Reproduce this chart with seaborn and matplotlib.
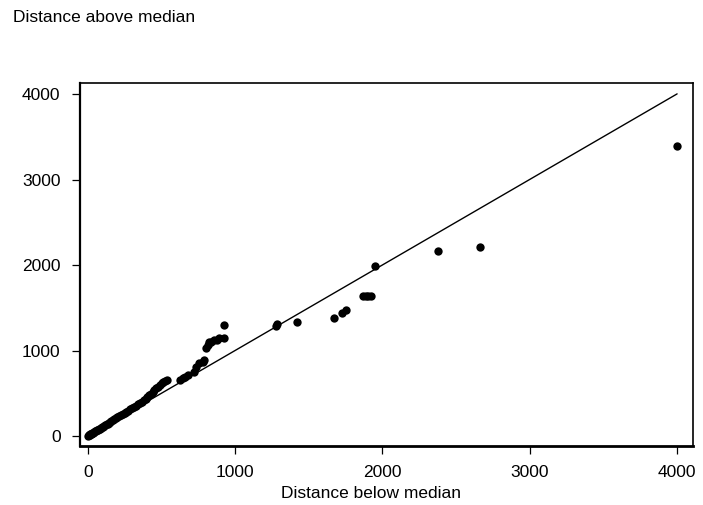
# Symmetry plot: distance above vs below the median
import seaborn as sns
import matplotlib.pyplot as plt
import pandas as pd

# values
below = [2, 5, 8, 12, 15, 20, 24, 28, 33, 38, 44, 50, 55, 61, 68, 74, 80, 87,
         95, 102, 110, 118, 127, 135, 142, 150, 160, 170, 180, 190, 200, 212,
         225, 238, 250, 262, 275, 288, 300, 312, 325, 340, 352, 366, 380, 392,
         405, 418, 430, 442, 452, 465, 478, 490, 502, 513, 525, 536,
         624, 647, 658, 680, 724, 736, 758, 780, 791, 802, 813, 824, 836, 858,
         880, 891, 924, 924,
         1275, 1288, 1424, 1673, 1729, 1751, 1869, 1888, 1906, 1924, 1951,
         2380, 2664, 4002]
above = [6, 9, 12, 15, 19, 23, 27, 31, 36, 41, 48, 54, 59, 66, 73, 80, 86, 94,
         103, 110, 118, 127, 137, 146, 153, 162, 173, 184, 195, 206, 217, 229,
         244, 258, 271, 284, 298, 313, 327, 340, 354, 370, 384, 400, 418, 436,
         455, 474, 495, 516, 536, 556, 578, 598, 618, 635, 646, 655,
         655, 675, 694, 713, 752, 811, 857, 869, 889, 1025, 1064, 1103, 1103,
         1123, 1123, 1143, 1143, 1298,
         1290, 1305, 1337, 1384, 1442, 1474, 1641, 1641, 1641, 1641, 1988,
         2166, 2207, 3395]

x_ticks = [0, 1000, 2000, 3000, 4000]
y_ticks = [0, 1000, 2000, 3000, 4000]

df = pd.DataFrame({"below": below, "above": above})

sns.set_style("ticks")
plt.rcParams["font.family"] = ["Liberation Sans", "DejaVu Sans"]
plt.rcParams["font.size"] = 12.5
plt.rcParams["text.color"] = "black"
plt.rcParams["axes.labelcolor"] = "black"

fig = plt.figure(figsize=(7.03, 5.05), dpi=100)
ax = fig.add_axes([0.1138, 0.1168, 0.8720, 0.7188])

sns.scatterplot(data=df, x="below", y="above", color="black", s=36,
                edgecolor="black", linewidth=0, ax=ax, zorder=3)

# reference line y = x
lo, hi = 0, max(below)
ax.plot([lo, hi], [lo, hi], color="black", lw=1.0, zorder=2)

ax.set_xlim(-53, 4110)
ax.set_ylim(-117, 4129)
ax.set_xticks(x_ticks)
ax.set_yticks(y_ticks)
ax.tick_params(direction="out", length=6, width=0.9, colors="black",
               labelsize=12.5, pad=8)

for side in ["left", "bottom", "top", "right"]:
    ax.spines[side].set_visible(True)
    ax.spines[side].set_color("black")
ax.spines["left"].set_linewidth(1.6)
ax.spines["bottom"].set_linewidth(2.0)
ax.spines["top"].set_linewidth(1.2)
ax.spines["right"].set_linewidth(1.2)

ax.set_xlabel("Distance below median", fontsize=12.5, labelpad=1,
              color="black")
ax.xaxis.set_label_coords(0.475, -0.11)
ax.set_ylabel("Distance above median", fontsize=12.5, rotation=0,
              ha="left", va="center", color="black")
ax.yaxis.set_label_coords(-0.11, 1.18)

fig.savefig("out.png", dpi=100, facecolor="white")
